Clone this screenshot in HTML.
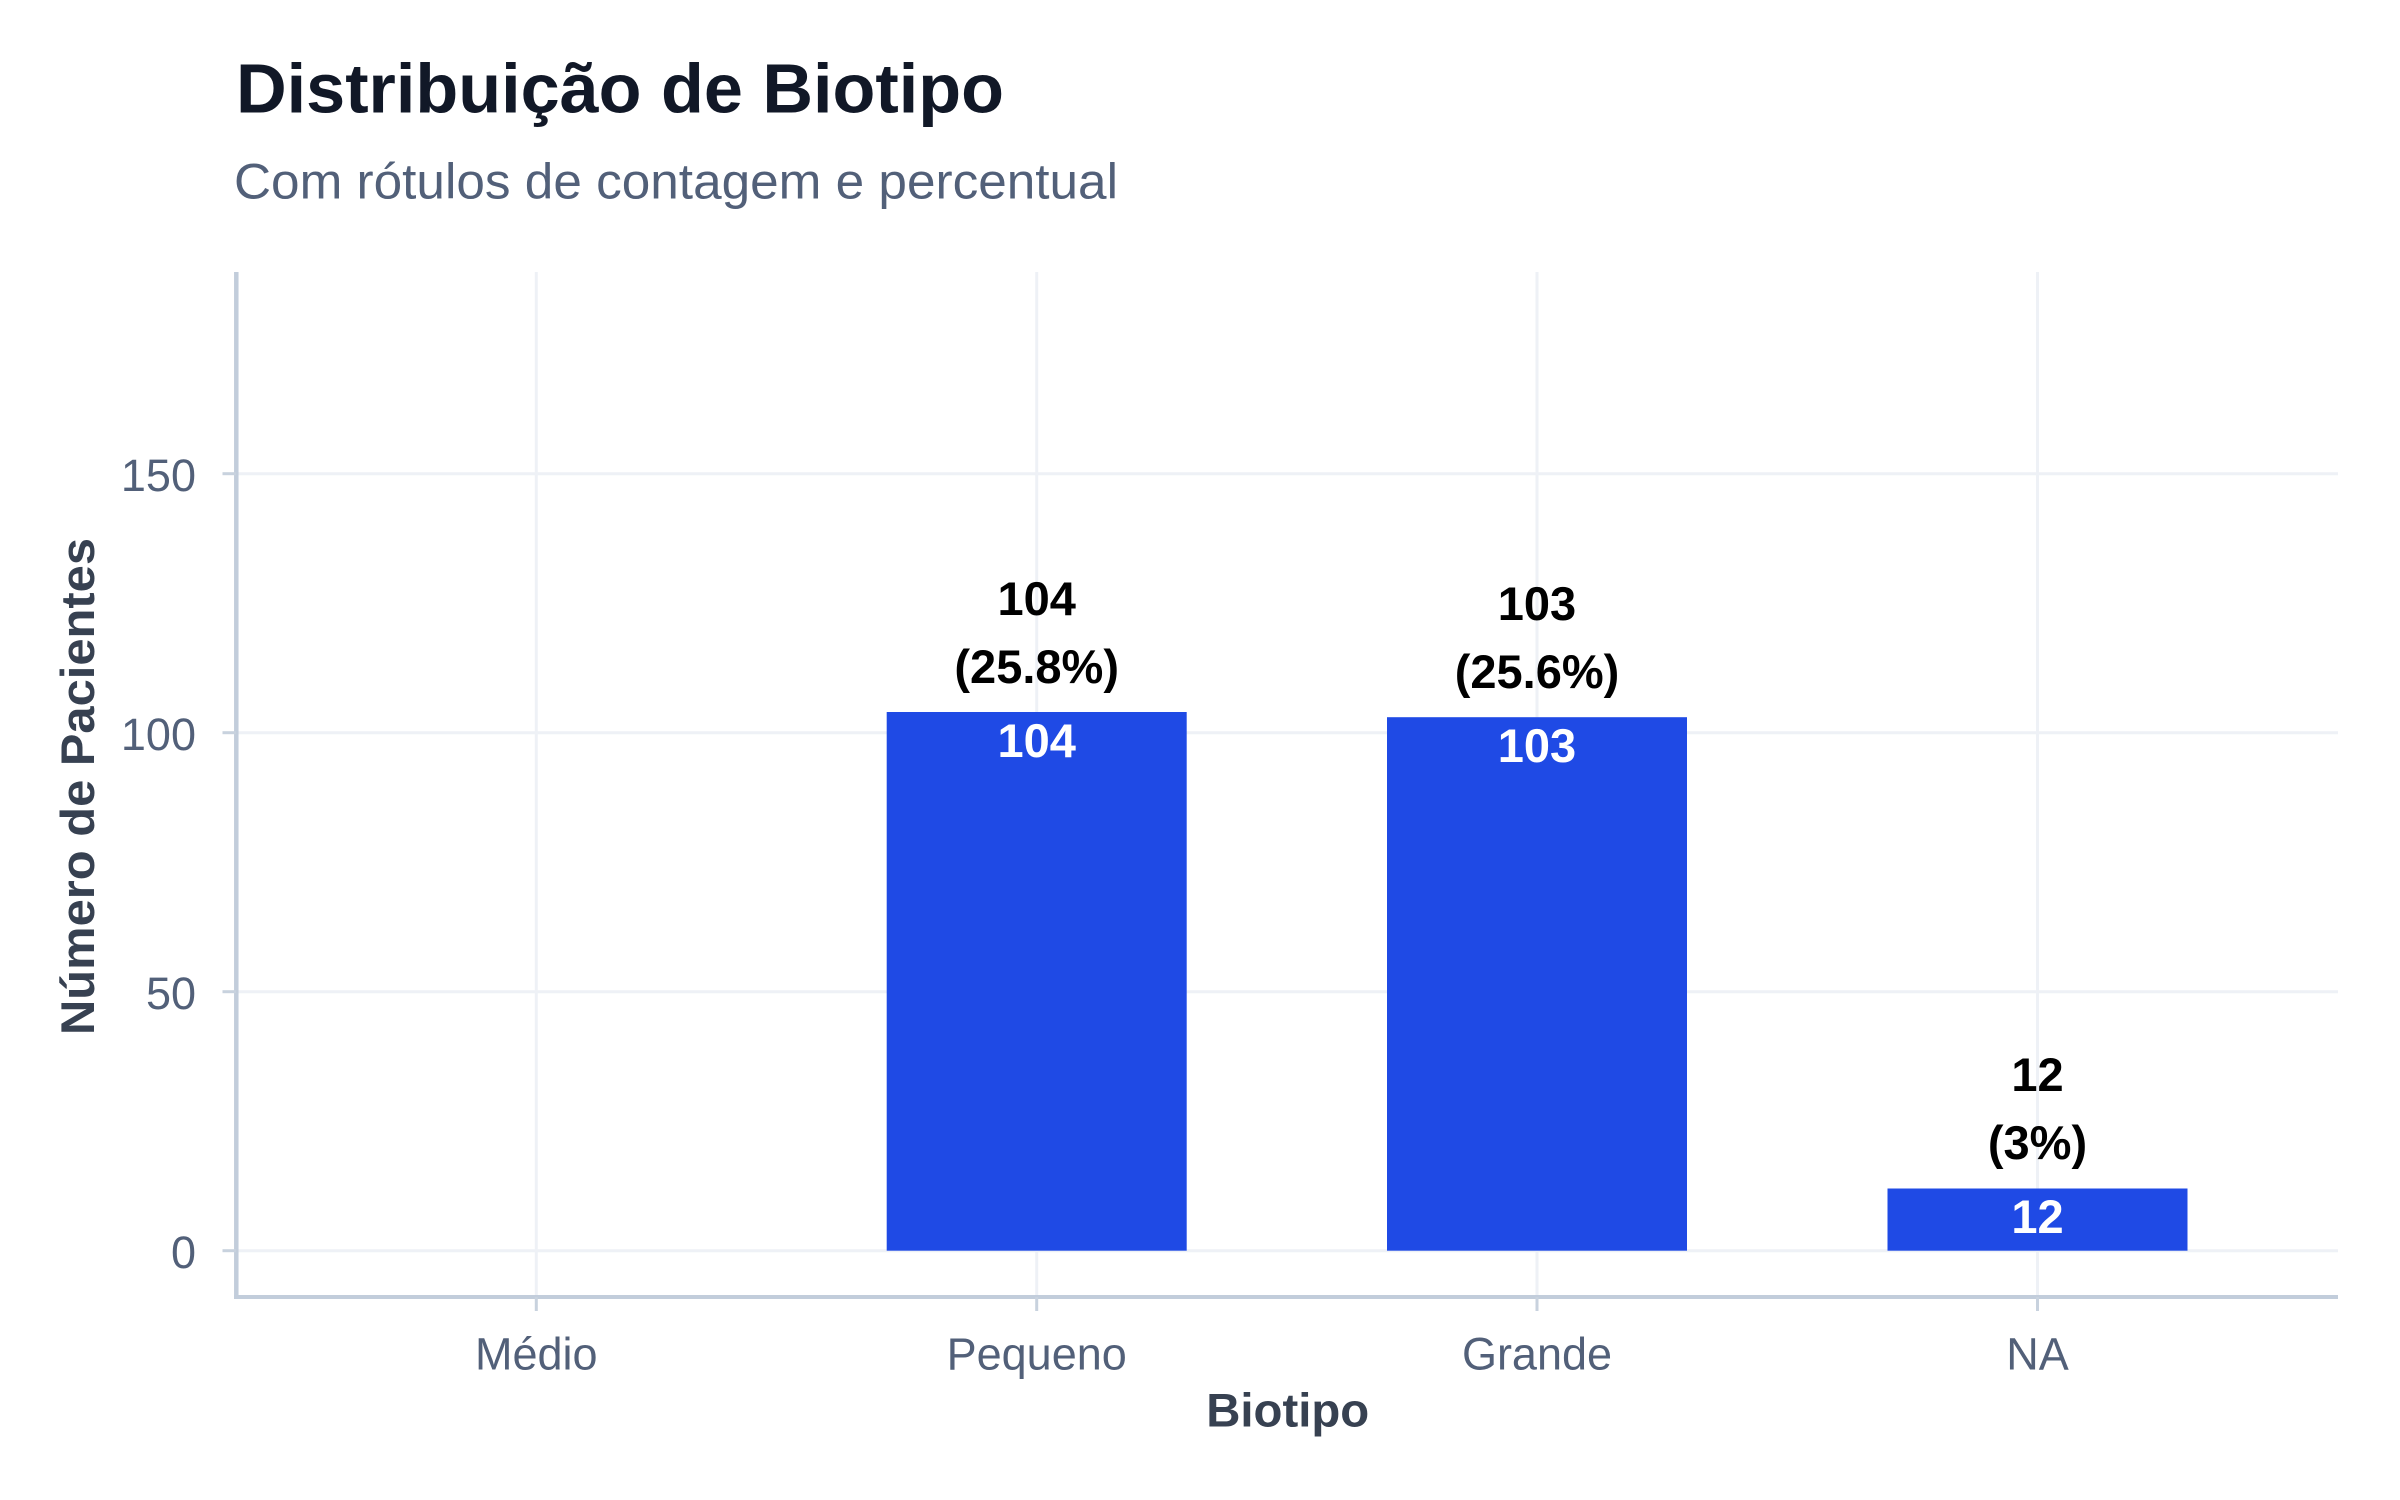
<!DOCTYPE html>
<html>
<head>
<meta charset="utf-8">
<style>
  html, body { margin: 0; padding: 0; background: #ffffff; }
  svg { display: block; }
  text { font-family: "Liberation Sans", Arial, sans-serif; }
</style>
</head>
<body>
<svg width="2400" height="1500" viewBox="0 0 2400 1500" xmlns="http://www.w3.org/2000/svg">
  <rect x="0" y="0" width="2400" height="1500" fill="#ffffff"/>

  <!-- Title & subtitle -->
  <text x="236" y="112.7" font-size="70" font-weight="bold" fill="#111827" textLength="768" lengthAdjust="spacingAndGlyphs">Distribuição de Biotipo</text>
  <text x="234" y="198.3" font-size="50" fill="#526079" textLength="884" lengthAdjust="spacingAndGlyphs">Com rótulos de contagem e percentual</text>

  <!-- Horizontal gridlines -->
  <g stroke="#eef1f6" stroke-width="3">
    <line x1="236" y1="473.7" x2="2338" y2="473.7"/>
    <line x1="236" y1="732.7" x2="2338" y2="732.7"/>
    <line x1="236" y1="991.7" x2="2338" y2="991.7"/>
    <line x1="236" y1="1250.7" x2="2338" y2="1250.7"/>
  </g>
  <!-- Vertical gridlines -->
  <g stroke="#eef1f6" stroke-width="3">
    <line x1="536.3" y1="272" x2="536.3" y2="1297"/>
    <line x1="1036.7" y1="272" x2="1036.7" y2="1297"/>
    <line x1="1537" y1="272" x2="1537" y2="1297"/>
    <line x1="2037.5" y1="272" x2="2037.5" y2="1297"/>
  </g>

  <!-- Bars -->
  <g fill="#1f4ae5">
    <rect x="886.7" y="712" width="300" height="538.7"/>
    <rect x="1387" y="717.2" width="300" height="533.5"/>
    <rect x="1887.5" y="1188.5" width="300" height="62.2"/>
  </g>

  <!-- Axes -->
  <g stroke="#c2cddb">
    <line x1="236.3" y1="272" x2="236.3" y2="1299" stroke-width="4.5"/>
    <line x1="234" y1="1297" x2="2338" y2="1297" stroke-width="4"/>
  </g>
  <!-- Ticks -->
  <g stroke="#c8d2de" stroke-width="3">
    <line x1="222.5" y1="473.7" x2="236" y2="473.7"/>
    <line x1="222.5" y1="732.7" x2="236" y2="732.7"/>
    <line x1="222.5" y1="991.7" x2="236" y2="991.7"/>
    <line x1="222.5" y1="1250.7" x2="236" y2="1250.7"/>
    <line x1="536.3" y1="1297" x2="536.3" y2="1311"/>
    <line x1="1036.7" y1="1297" x2="1036.7" y2="1311"/>
    <line x1="1537" y1="1297" x2="1537" y2="1311"/>
    <line x1="2037.5" y1="1297" x2="2037.5" y2="1311"/>
  </g>

  <!-- Y tick labels -->
  <g font-size="45" fill="#526079" text-anchor="end">
    <text x="196" y="491">150</text>
    <text x="196" y="750">100</text>
    <text x="196" y="1009">50</text>
    <text x="196" y="1268">0</text>
  </g>

  <!-- X tick labels -->
  <g font-size="45" fill="#526079" text-anchor="middle">
    <text x="536.3" y="1369.5">Médio</text>
    <text x="1036.7" y="1369.5">Pequeno</text>
    <text x="1537" y="1369.5">Grande</text>
    <text x="2037.5" y="1369.5">NA</text>
  </g>

  <!-- Axis titles -->
  <text x="1287.7" y="1426.7" font-size="47" font-weight="bold" fill="#374151" text-anchor="middle" textLength="163" lengthAdjust="spacingAndGlyphs">Biotipo</text>
  <text transform="translate(94,786.5) rotate(-90)" x="0" y="0" font-size="47" font-weight="bold" fill="#374151" text-anchor="middle" textLength="497" lengthAdjust="spacingAndGlyphs">Número de Pacientes</text>

  <!-- Labels above bars -->
  <g font-size="47" font-weight="bold" fill="#000000" text-anchor="middle">
    <text x="1036.7" y="615">104</text>
    <text x="1036.7" y="683">(25.8%)</text>
    <text x="1537" y="620">103</text>
    <text x="1537" y="688">(25.6%)</text>
    <text x="2037.5" y="1091">12</text>
    <text x="2037.5" y="1159">(3%)</text>
  </g>

  <!-- Labels inside bars -->
  <g font-size="47" font-weight="bold" fill="#ffffff" text-anchor="middle">
    <text x="1036.7" y="757">104</text>
    <text x="1537" y="762">103</text>
    <text x="2037.5" y="1233">12</text>
  </g>
</svg>
</body>
</html>
